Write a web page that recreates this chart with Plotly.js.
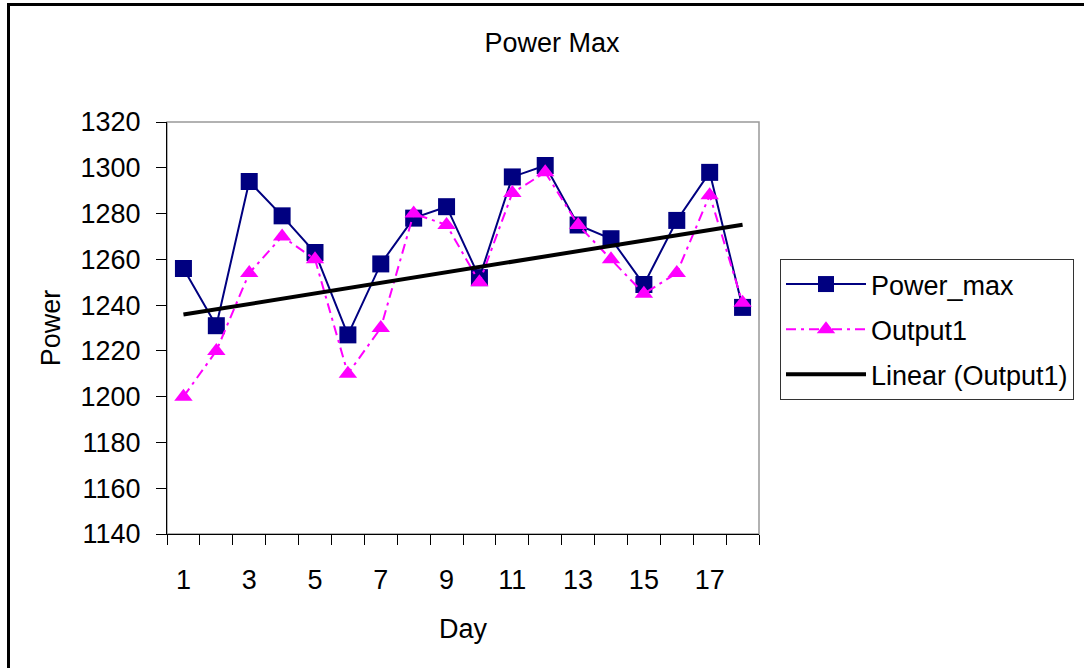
<!DOCTYPE html>
<html>
<head>
<meta charset="utf-8">
<script src="https://cdn.plot.ly/plotly-3.0.1.min.js"></script>
<style>
  html, body { margin: 0; padding: 0; background: #fff; overflow: hidden; }
  #wrap { position: relative; width: 1084px; height: 668px; overflow: hidden; }
  #chart { position: absolute; left: 0; top: 0; width: 1084px; height: 668px; }
  #frame { position: absolute; left: 7px; top: 3px; width: 1400px; height: 1000px;
           border-left: 3px solid #000; border-top: 3px solid #000; pointer-events: none; }
</style>
</head>
<body>
<div id="wrap">
  <div id="chart"></div>
  <div id="frame"></div>
</div>
<script>
// ---- data ----
const days = [1, 2, 3, 4, 5, 6, 7, 8, 9, 10, 11, 12, 13, 14, 15, 16, 17, 18];
const powerMax = [1256, 1231, 1294, 1279, 1263, 1227, 1258, 1278, 1283, 1252, 1296, 1301, 1275, 1269, 1249, 1277, 1298, 1239];
const output1 = [1200, 1220, 1254, 1270, 1260, 1210, 1230, 1280, 1275, 1250, 1289, 1298, 1275, 1260, 1245, 1254, 1288, 1241];
const xTickVals = [1, 3, 5, 7, 9, 11, 13, 15, 17];
const xTickText = ['1', '3', '5', '7', '9', '11', '13', '15', '17'];
const yTickVals = [1140, 1160, 1180, 1200, 1220, 1240, 1260, 1280, 1300, 1320];
const seriesNames = ['Power_max', 'Output1', 'Linear (Output1)'];

// least-squares linear trend of Output1 (as Excel's "Linear" trendline)
function linearFit(xs, ys) {
  const n = xs.length;
  const mx = xs.reduce((a, b) => a + b, 0) / n;
  const my = ys.reduce((a, b) => a + b, 0) / n;
  let sxy = 0, sxx = 0;
  for (let i = 0; i < n; i++) { sxy += (xs[i] - mx) * (ys[i] - my); sxx += (xs[i] - mx) ** 2; }
  const slope = sxy / sxx;
  return { slope, intercept: my - slope * mx };
}
const fit = linearFit(days, output1);
const trendY = days.map(d => fit.intercept + fit.slope * d);

const FONT = 'Liberation Sans, Arial, sans-serif';
const FS = 27;

const data = [
  {
    x: days, y: powerMax, name: seriesNames[0], type: 'scatter', mode: 'lines+markers',
    line: { color: '#000080', width: 2 },
    marker: { symbol: 'square', size: 17, color: '#000080' },
    legendgroup: 'a'
  },
  {
    x: days, y: output1, name: seriesNames[1], type: 'scatter', mode: 'lines+markers',
    line: { color: '#FF00FF', width: 2, dash: '10px,5px,3px,5px' },
    marker: { symbol: 'triangle-up', size: 16, color: '#FF00FF' },
    legendgroup: 'b'
  },
  {
    x: days, y: trendY, name: seriesNames[2], type: 'scatter', mode: 'lines',
    line: { color: '#000000', width: 4 },
    legendgroup: 'c'
  }
];

const layout = {
  width: 1084, height: 668,
  margin: { l: 167, r: 325, t: 122, b: 134, pad: 0 },
  paper_bgcolor: '#ffffff', plot_bgcolor: '#ffffff',
  font: { family: FONT, size: FS, color: '#000' },
  title: {
    text: 'Power Max', font: { family: FONT, size: FS, color: '#000' },
    xref: 'container', yref: 'container', x: 552 / 1084, y: 1 - 43 / 668,
    xanchor: 'center', yanchor: 'middle'
  },
  xaxis: {
    range: [0.5, 18.5], showgrid: false, zeroline: false,
    showline: true, linecolor: '#000', linewidth: 1,
    tickmode: 'array', tickvals: xTickVals, ticktext: xTickText,
    ticks: '', ticklabelstandoff: 22,
    tickfont: { family: FONT, size: FS, color: '#000' },
    minor: { tick0: 0.5, dtick: 1, ticks: 'outside', ticklen: 10, tickcolor: '#000', tickwidth: 1, showgrid: false },
    title: { text: 'Day', font: { family: FONT, size: FS, color: '#000' }, standoff: 24 }
  },
  yaxis: {
    range: [1140, 1320], showgrid: false, zeroline: false,
    showline: true, linecolor: '#000', linewidth: 1,
    tickmode: 'array', tickvals: yTickVals,
    ticks: 'outside', ticklen: 10, tickcolor: '#000', tickwidth: 1,
    ticklabelstandoff: 10,
    tickfont: { family: FONT, size: FS, color: '#000' },
    title: { text: 'Power', font: { family: FONT, size: FS, color: '#000' }, standoff: 12 }
  },
  shapes: [
    { type: 'rect', xref: 'paper', yref: 'paper', x0: 0, x1: 1, y0: 0, y1: 1,
      line: { color: '#999999', width: 1.5 }, layer: 'below' }
  ],
  showlegend: true,
  legend: {
    xref: 'container', yref: 'container', x: 780 / 1084, y: 1 - 259 / 668,
    xanchor: 'left', yanchor: 'top',
    bgcolor: '#ffffff', bordercolor: '#333333', borderwidth: 1,
    font: { family: FONT, size: FS, color: '#000' },
    traceorder: 'grouped', tracegroupgap: 7, itemwidth: 80
  }
};

const gd = document.getElementById('chart');
Plotly.newPlot(gd, data, layout, { staticPlot: true, displayModeBar: false }).then(() => {
  gd.querySelectorAll('.legend g.legendlines path').forEach(p => p.setAttribute('d', 'M5,0h80'));
});
</script>
</body>
</html>
